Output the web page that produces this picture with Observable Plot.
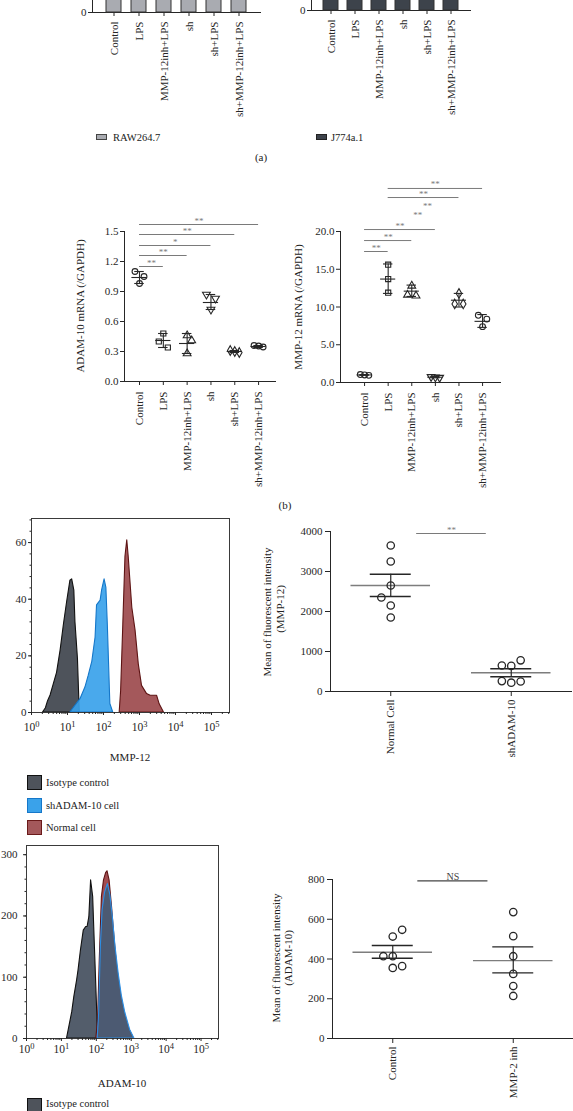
<!DOCTYPE html>
<html><head><meta charset="utf-8">
<script src="https://cdn.jsdelivr.net/npm/d3@7"></script>
<script src="https://cdn.jsdelivr.net/npm/@observablehq/plot@0.6"></script>
<style>
html,body{margin:0;padding:0;background:#fff;}
#page{position:relative;width:573px;height:1111px;overflow:hidden;font-family:"Liberation Serif","DejaVu Serif",serif;color:#222;}
#page svg{overflow:visible;}
</style></head><body><div id="page"></div>
<script>
// ---------- DATA ----------
const categories = ["Control", "LPS", "MMP-12inh+LPS", "sh", "sh+LPS", "sh+MMP-12inh+LPS"];
// panel (a): bars (tops are cut off in the reference)
const rawBars = [1.0, 0.45, 0.42, 0.8, 0.32, 0.36];
const j774Bars = [1.0, 0.5, 0.45, 0.78, 0.33, 0.37];
const aYTicks = [0];

// panel (b) ADAM-10 mRNA
const adamReps = [[1.10, 1.05, 0.98], [0.48, 0.40, 0.34], [0.46, 0.41, 0.28], [0.87, 0.83, 0.72], [0.31, 0.30, 0.29], [0.36, 0.355, 0.345]];
const adamSlots = [[-1, 1, 0], [0, -1, 1], [0, 1, 0], [-1, 1, 0], [-1, 0, 1], [-1, 0, 1]];
const adamMean = [1.04, 0.41, 0.38, 0.79, 0.30, 0.35];
const adamLow = [0.98, 0.34, 0.28, 0.72, 0.29, 0.34];
const adamHigh = [1.10, 0.48, 0.48, 0.87, 0.31, 0.36];
const adamYTicks = [0, 0.3, 0.6, 0.9, 1.2, 1.5];
const adamSigFrom = [0, 0, 0, 0, 0];
const adamSigTo = [5, 4, 3, 2, 1];
const adamSigY = [1.57, 1.47, 1.36, 1.26, 1.15];
const adamSigText = ["**", "**", "*", "**", "**"];

// panel (b) MMP-12 mRNA
const mmpReps = [[1.05, 1.0, 0.95], [15.6, 13.7, 11.9], [12.8, 11.6, 11.5], [0.75, 0.7, 0.65], [11.8, 10.4, 10.4], [8.9, 8.4, 7.4]];
const mmpSlots = [[-1, 0, 1], [0, 0, 0], [0, -1, 1], [-1, 0, 1], [0, -1, 1], [-1, 1, 0]];
const mmpMean = [1.0, 13.7, 12.1, 0.7, 10.9, 8.1];
const mmpLow = [0.95, 11.8, 11.4, 0.62, 10.0, 7.3];
const mmpHigh = [1.05, 15.7, 12.9, 0.78, 11.8, 9.0];
const mmpYTicks = [0, 5, 10, 15, 20];
const mmpSigFrom = [0, 0, 0, 1, 1, 1, 1];
const mmpSigTo = [1, 2, 3, 3.5, 4.33, 4, 5];
const mmpSigY = [17.35, 18.8, 20.26, 21.66, 22.85, 24.5, 25.7];
const mmpSigText = ["**", "**", "**", "**", "**", "**", "**"];
const mmpSigLine = [true, true, true, false, false, true, true];

// flow histograms (x in log10 units)
const histTicks = [0, 1, 2, 3, 4, 5];
const histNames = ["Isotype control", "shADAM-10 cell", "Normal cell"];
const mmpIsoLog = [0.32, 0.40, 0.46, 0.53, 0.62, 0.71, 0.81, 0.90, 0.99, 1.08, 1.13, 1.19, 1.22, 1.29, 1.34];
const mmpIsoCount = [0, 1.5, 4, 6, 10, 14, 22, 31, 39, 46.5, 47, 43, 32, 19, 0];
const mmpShLog = [1.08, 1.22, 1.36, 1.50, 1.59, 1.69, 1.78, 1.82, 1.92, 1.96, 2.03, 2.08, 2.12, 2.19, 2.27];
const mmpShCount = [0, 2.4, 4.7, 8.9, 13, 18, 26.5, 37.8, 39.5, 43, 47, 44, 31, 3, 0];
const mmpNormLog = [2.45, 2.49, 2.55, 2.61, 2.66, 2.70, 2.80, 2.89, 2.98, 3.07, 3.21, 3.31, 3.49, 3.56, 3.68];
const mmpNormCount = [0, 7.7, 31, 55, 60.8, 55, 37, 29, 17, 9.4, 6.5, 5.9, 5.9, 2.9, 0];
const mmpHistYTicks = [0, 20, 40, 60];

const adIsoLog = [1.16, 1.21, 1.31, 1.37, 1.45, 1.49, 1.56, 1.64, 1.71, 1.75, 1.80, 1.85, 1.91, 1.96, 2.02, 2.05];
const adIsoCount = [0, 14, 43, 68, 95, 111, 144, 176, 182, 182, 198, 258, 231, 149, 52, 0];
const adNormLog = [2.00, 2.05, 2.10, 2.16, 2.22, 2.28, 2.32, 2.38, 2.45, 2.52, 2.59, 2.69, 2.78, 2.92, 3.05, 3.07];
const adNormCount = [0, 30, 130, 231, 258, 270, 273, 258, 215, 165, 120, 78, 45, 18, 3, 0];
const adShLog = [2.04, 2.08, 2.13, 2.18, 2.25, 2.33, 2.40, 2.47, 2.55, 2.64, 2.73, 2.83, 2.97, 3.09];
const adShCount = [0, 40, 150, 210, 238, 252, 235, 200, 150, 106, 70, 42, 14, 0];
const adHistYTicks = [0, 100, 200, 300];

// scatter: MFI of MMP-12
const scatMmpCats = ["Normal Cell", "shADAM-10"];
const scatMmpVals = [[3650, 3250, 2650, 2350, 2150, 1850], [650, 640, 780, 260, 220, 250]];
const scatMmpSlots = [[0, 0, 0, -1, 0, 0], [-1, 0, 1, -1, 0, 1]];
const scatMmpMean = [2650, 467];
const scatMmpLow = [2375, 367];
const scatMmpHigh = [2933, 567];
const scatMmpYTicks = [0, 1000, 2000, 3000, 4000];
const scatMmpSig = {from: 0.215, to: 0.793, y: 3950, text: "**"};

// scatter: MFI of ADAM-10
const scatAdamCats = ["Control", "MMP-2 inh"];
const scatAdamVals = [[547, 513, 414, 414, 364, 355], [636, 515, 414, 325, 264, 214]];
const scatAdamSlots = [[1, 0, -1, 0, 1, 0], [0, 0, 0, 0, 0, 0]];
const scatAdamMean = [434, 392];
const scatAdamLow = [404, 330];
const scatAdamHigh = [468, 461];
const scatAdamYTicks = [0, 200, 400, 600, 800];
const scatAdamSig = {from: 0.208, to: 0.79, y: 793, text: "NS"};

// ---------- HELPERS ----------
const FONT = '"Liberation Serif","DejaVu Serif",serif';
const INK = "#262626";
const SIG = "#7a7a7a";
const SVGNS = "http://www.w3.org/2000/svg";
const page = document.getElementById("page");
function place(node, left, top) {
  node.style.position = "absolute";
  node.style.left = left + "px";
  node.style.top = top + "px";
  page.appendChild(node);
}
function st(size = 11) {
  return {fontFamily: FONT, fontSize: size + "px", color: INK, background: "none", overflow: "visible"};
}
function addText(str, x, y, {size = 11, rotate = false, anchor = "middle", color = "#222"} = {}) {
  const d = document.createElement("div");
  d.textContent = str;
  const tx = anchor === "start" ? "0" : "-50%";
  d.style.cssText = `position:absolute;left:${x}px;top:${y}px;font-size:${size}px;line-height:1;white-space:nowrap;color:${color};transform:translate(${tx},-50%)${rotate ? " rotate(-90deg)" : ""};`;
  page.appendChild(d);
}
function swatch(x, y, w, h, fill, stroke) {
  const d = document.createElement("div");
  d.style.cssText = `position:absolute;left:${x}px;top:${y}px;width:${w}px;height:${h}px;box-sizing:border-box;background:${fill};border:1.2px solid ${stroke};`;
  page.appendChild(d);
}
const sqrt3 = Math.sqrt(3);
const triangleDown = {
  draw(context, size) {
    const y = -Math.sqrt(size / (sqrt3 * 3));
    context.moveTo(0, -y * 2);
    context.lineTo(-sqrt3 * y, y);
    context.lineTo(sqrt3 * y, y);
    context.closePath();
  }
};
const groupSymbols = ["circle", "square", "triangle", triangleDown, "diamond", "circle"];

// ---------- PANEL (a) ----------
function barPanel(values, fill, left, x0, x1, baseY, pi, po) {
  const W = 290, H = 330, mb = 112, mt = 20;
  const svg = Plot.plot({
    width: W, height: H, marginLeft: x0 - left, marginRight: W - (x1 - left), marginTop: mt, marginBottom: mb,
    style: st(11),
    x: {type: "band", domain: categories, paddingInner: pi, paddingOuter: po, tickSize: 4, tickPadding: 5, tickRotate: -90, line: true, label: null},
    y: {domain: [0, 1.2], ticks: aYTicks, tickFormat: d3.format("d"), tickSize: 4, tickPadding: 2, line: true, label: null},
    marks: [
      Plot.barY(categories.map((c, i) => ({c, v: values[i]})), {x: "c", y: "v", fill, stroke: "#333", strokeWidth: 1})
    ]
  });
  place(svg, left, baseY - (H - mb));
}
barPanel(rawBars, "#a9abb1", 0, 92, 260, 12, 0.41, 0.5);
barPanel(j774Bars, "#3d434b", 220, 311, 470, 10, 0.38, 0.44);
swatch(96, 134, 11, 6, "#a9abb1", "#444");
addText("RAW264.7", 113, 137.5, {size: 10.5, anchor: "start"});
swatch(316, 134, 11, 6, "#3d434b", "#222");
addText("J774a.1", 331, 137.5, {size: 10.5, anchor: "start"});
addText("(a)", 261, 157, {size: 11});

// ---------- PANEL (b) ----------
function mrnaPanel(o) {
  const summary = o.mean.map((m, i) => ({i, mean: m, lo: o.low[i], hi: o.high[i]}));
  const pts = o.reps.flatMap((arr, i) => arr.map((v, j) => ({i, v, s: o.slots[i][j]})));
  const sig = o.sigFrom.map((f, k) => ({f, t: o.sigTo[k], y: o.sigY[k], label: o.sigText[k], line: o.sigLine ? o.sigLine[k] : true}));
  const svg = Plot.plot({
    width: o.W, height: o.H, marginLeft: o.ml, marginRight: o.mr, marginTop: o.mt, marginBottom: o.mb,
    style: st(11),
    x: {domain: o.xDomain, ticks: d3.range(categories.length), tickFormat: i => categories[i], tickRotate: -90, tickSize: 4, tickPadding: 6, line: true, label: null},
    y: {domain: o.yDomain, ticks: o.yTicks, tickFormat: d3.format(".1f"), tickSize: 4, tickPadding: 2, line: true, label: null},
    marks: [
      Plot.ruleX(summary, {x: "i", y1: "lo", y2: "hi", stroke: INK, strokeWidth: 1.1}),
      Plot.ruleY(summary, {x1: d => d.i - o.meanHalf, x2: d => d.i + o.meanHalf, y: "mean", stroke: INK, strokeWidth: 1.1}),
      Plot.ruleY(summary, {x1: d => d.i - o.capHalf, x2: d => d.i + o.capHalf, y: "lo", stroke: INK, strokeWidth: 1.1}),
      Plot.ruleY(summary, {x1: d => d.i - o.capHalf, x2: d => d.i + o.capHalf, y: "hi", stroke: INK, strokeWidth: 1.1}),
      ...categories.map((c, i) => Plot.dot(pts.filter(p => p.i === i), {x: p => p.i + p.s * o.slot, y: "v", symbol: groupSymbols[i], r: 2.9, stroke: INK, strokeWidth: 1.1, fill: "none"})),
      Plot.ruleY(sig.filter(d => d.line), {x1: "f", x2: "t", y: "y", stroke: SIG, strokeWidth: 1}),
      Plot.text(sig, {x: d => (d.f + d.t) / 2, y: "y", text: "label", dy: -1, lineAnchor: "bottom", fill: SIG, fontSize: 9})
    ]
  });
  place(svg, o.left, o.top);
}
mrnaPanel({
  left: 0, top: 170, W: 290, H: 330, ml: 124, mr: 15, mt: 61, mb: 119,
  xDomain: [-0.63, 5.71], yDomain: [0, 1.5], yTicks: adamYTicks,
  mean: adamMean, low: adamLow, high: adamHigh, reps: adamReps, slots: adamSlots, slot: 0.19,
  meanHalf: 0.32, capHalf: 0.2,
  sigFrom: adamSigFrom, sigTo: adamSigTo, sigY: adamSigY, sigText: adamSigText
});
mrnaPanel({
  left: 283, top: 170, W: 290, H: 330, ml: 57, mr: 73, mt: 61, mb: 118,
  xDomain: [-1.02, 5.76], yDomain: [0, 20], yTicks: mmpYTicks,
  mean: mmpMean, low: mmpLow, high: mmpHigh, reps: mmpReps, slots: mmpSlots, slot: 0.18,
  meanHalf: 0.32, capHalf: 0.2,
  sigFrom: mmpSigFrom, sigTo: mmpSigTo, sigY: mmpSigY, sigText: mmpSigText, sigLine: mmpSigLine
});
addText("ADAM-10 mRNA (/GAPDH)", 80, 306, {rotate: true});
addText("MMP-12 mRNA (/GAPDH)", 298, 307, {rotate: true});
addText("(b)", 285, 505, {size: 11});

// ---------- HISTOGRAMS ----------
function histPanel(o) {
  const minor = [];
  for (let k = 0; k < 6; k++) for (let m = 2; m <= 9; m++) { const v = k + Math.log10(m); if (v <= o.xMax) minor.push(v); }
  const yMinor = d3.range(0, o.yMax, o.yMinorStep);
  const svg = Plot.plot({
    width: o.W, height: o.H, marginLeft: o.ml, marginRight: o.mr, marginTop: o.mt, marginBottom: o.mb,
    style: st(11),
    x: {domain: [0, o.xMax], label: null},
    y: {domain: [0, o.yMax], label: null},
    marks: [
      ...o.series.map((s, k) => Plot.areaY(s.log.map((l, j) => ({l, c: s.count[j]})), {x: "l", y: "c", fill: s.fill, fillOpacity: s.opacity ?? 1, stroke: s.stroke, strokeWidth: 1.1})),
      Plot.frame({stroke: "#3a3a3a", strokeWidth: 1}),
      Plot.axisX(histTicks, {tickSize: 3, tickPadding: o.xPad, tickFormat: d => "10^" + d, label: null, fontSize: 11.5}),
      Plot.axisX(minor, {tickSize: 2, tickFormat: () => "", label: null}),
      Plot.axisY(o.yTicks, {tickSize: 3, tickPadding: o.yPad, label: null}),
      Plot.axisY(yMinor, {tickSize: 1.5, tickFormat: () => "", label: null})
    ]
  });
  // typeset powers of ten with a real superscript
  svg.querySelectorAll("text").forEach(t => {
    const m = /^10\^(\d)$/.exec(t.textContent);
    if (m) {
      t.textContent = "10";
      const ts = document.createElementNS(SVGNS, "tspan");
      ts.setAttribute("dy", "-0.45em");
      ts.setAttribute("font-size", "8.5");
      ts.textContent = m[1];
      t.appendChild(ts);
    }
  });
  place(svg, o.left, o.top);
}
histPanel({
  left: 0, top: 500, W: 240, H: 280, ml: 31, mr: 11, mt: 18, mb: 68,
  xMax: 5.5, yMax: 68.5, yTicks: mmpHistYTicks, yMinorStep: 4, xPad: 7, yPad: 2,
  series: [
    {log: mmpIsoLog, count: mmpIsoCount, fill: "#4e535b", stroke: "#111"},
    {log: mmpShLog, count: mmpShCount, fill: "#3aa2ea", stroke: "#1577c9", opacity: 0.92},
    {log: mmpNormLog, count: mmpNormCount, fill: "#a4585b", stroke: "#5e1414"}
  ]
});
addText("MMP-12", 130, 757, {size: 11});
const swFill = ["#4e535b", "#3aa2ea", "#a4585b"];
const swStroke = ["#111", "#1577c9", "#6a1a1a"];
histNames.forEach((n, k) => {
  swatch(27, 775 + k * 22.5, 15, 15, swFill[k], swStroke[k]);
  addText(n, 46, 783 + k * 22.5, {size: 10.5, anchor: "start"});
});

histPanel({
  left: 0, top: 830, W: 240, H: 281, ml: 26, mr: 22, mt: 15, mb: 73,
  xMax: 5.5, yMax: 315, yTicks: adHistYTicks, yMinorStep: 20, xPad: 3, yPad: 6,
  series: [
    {log: adIsoLog, count: adIsoCount, fill: "#535d6b", stroke: "#111"},
    {log: adNormLog, count: adNormCount, fill: "#a24c50", stroke: "#5e1414"},
    {log: adShLog, count: adShCount, fill: "#4c5a72", stroke: "#2b8fe6"}
  ]
});
addText("ADAM-10", 122, 1083, {size: 11});
// only the first legend entry of this panel lies on the page
swatch(27, 1098, 15, 15, swFill[0], swStroke[0]);
addText(histNames[0], 46, 1103.5, {size: 10.5, anchor: "start"});

// ---------- SCATTER (MFI) ----------
function scatterPanel(o) {
  const pts = o.vals.flatMap((arr, i) => arr.map((v, j) => ({i, v, s: o.slots[i][j]})));
  const summary = o.mean.map((m, i) => ({i, mean: m, lo: o.low[i], hi: o.high[i]}));
  const svg = Plot.plot({
    width: o.W, height: o.H, marginLeft: o.ml, marginRight: o.mr, marginTop: o.mt, marginBottom: o.mb,
    style: st(11),
    x: {domain: [-0.5, 1.5], ticks: [0, 1], tickFormat: i => o.cats[i], tickRotate: -90, tickSize: 5, tickPadding: 3, line: true, label: null},
    y: {domain: o.yDomain, ticks: o.yTicks, tickFormat: d3.format("d"), tickSize: 5, tickPadding: 3, line: true, label: null},
    marks: [
      Plot.ruleY(summary, {x1: d => d.i - 0.33, x2: d => d.i + 0.33, y: "mean", stroke: "#7d7d7d", strokeWidth: 1.4}),
      Plot.ruleX(summary, {x: "i", y1: "lo", y2: "hi", stroke: INK, strokeWidth: 1.2}),
      Plot.ruleY(summary, {x1: d => d.i - 0.17, x2: d => d.i + 0.17, y: "lo", stroke: INK, strokeWidth: 1.4}),
      Plot.ruleY(summary, {x1: d => d.i - 0.17, x2: d => d.i + 0.17, y: "hi", stroke: INK, strokeWidth: 1.4}),
      Plot.dot(pts, {x: p => p.i + p.s * 0.078, y: "v", r: 3.7, stroke: INK, strokeWidth: 1.3, fill: "none"}),
      Plot.ruleY([o.sig], {x1: "from", x2: "to", y: "y", stroke: o.sigColor, strokeWidth: 1.2}),
      Plot.text([o.sig], {x: d => (d.from + d.to) / 2, y: "y", text: "text", dy: -1, lineAnchor: "bottom", fill: o.sigColor, fontSize: o.sigSize})
    ]
  });
  place(svg, o.left, o.top);
}
scatterPanel({
  left: 283, top: 500, W: 290, H: 270, ml: 47, mr: 2, mt: 31, mb: 79,
  cats: scatMmpCats, vals: scatMmpVals, slots: scatMmpSlots, mean: scatMmpMean, low: scatMmpLow, high: scatMmpHigh,
  yDomain: [0, 4000], yTicks: scatMmpYTicks, sig: scatMmpSig, sigColor: SIG, sigSize: 9
});
addText("Mean of fluorescent intensity", 267, 612, {rotate: true});
addText("(MMP-12)", 280, 609, {rotate: true});

scatterPanel({
  left: 283, top: 830, W: 290, H: 281, ml: 49, mr: 0, mt: 49, mb: 73,
  cats: scatAdamCats, vals: scatAdamVals, slots: scatAdamSlots, mean: scatAdamMean, low: scatAdamLow, high: scatAdamHigh,
  yDomain: [0, 800], yTicks: scatAdamYTicks, sig: scatAdamSig, sigColor: "#444", sigSize: 10
});
addText("Mean of fluorescent intensity", 276, 958, {rotate: true});
addText("(ADAM-10)", 288, 958, {rotate: true});
</script>
</body></html>
